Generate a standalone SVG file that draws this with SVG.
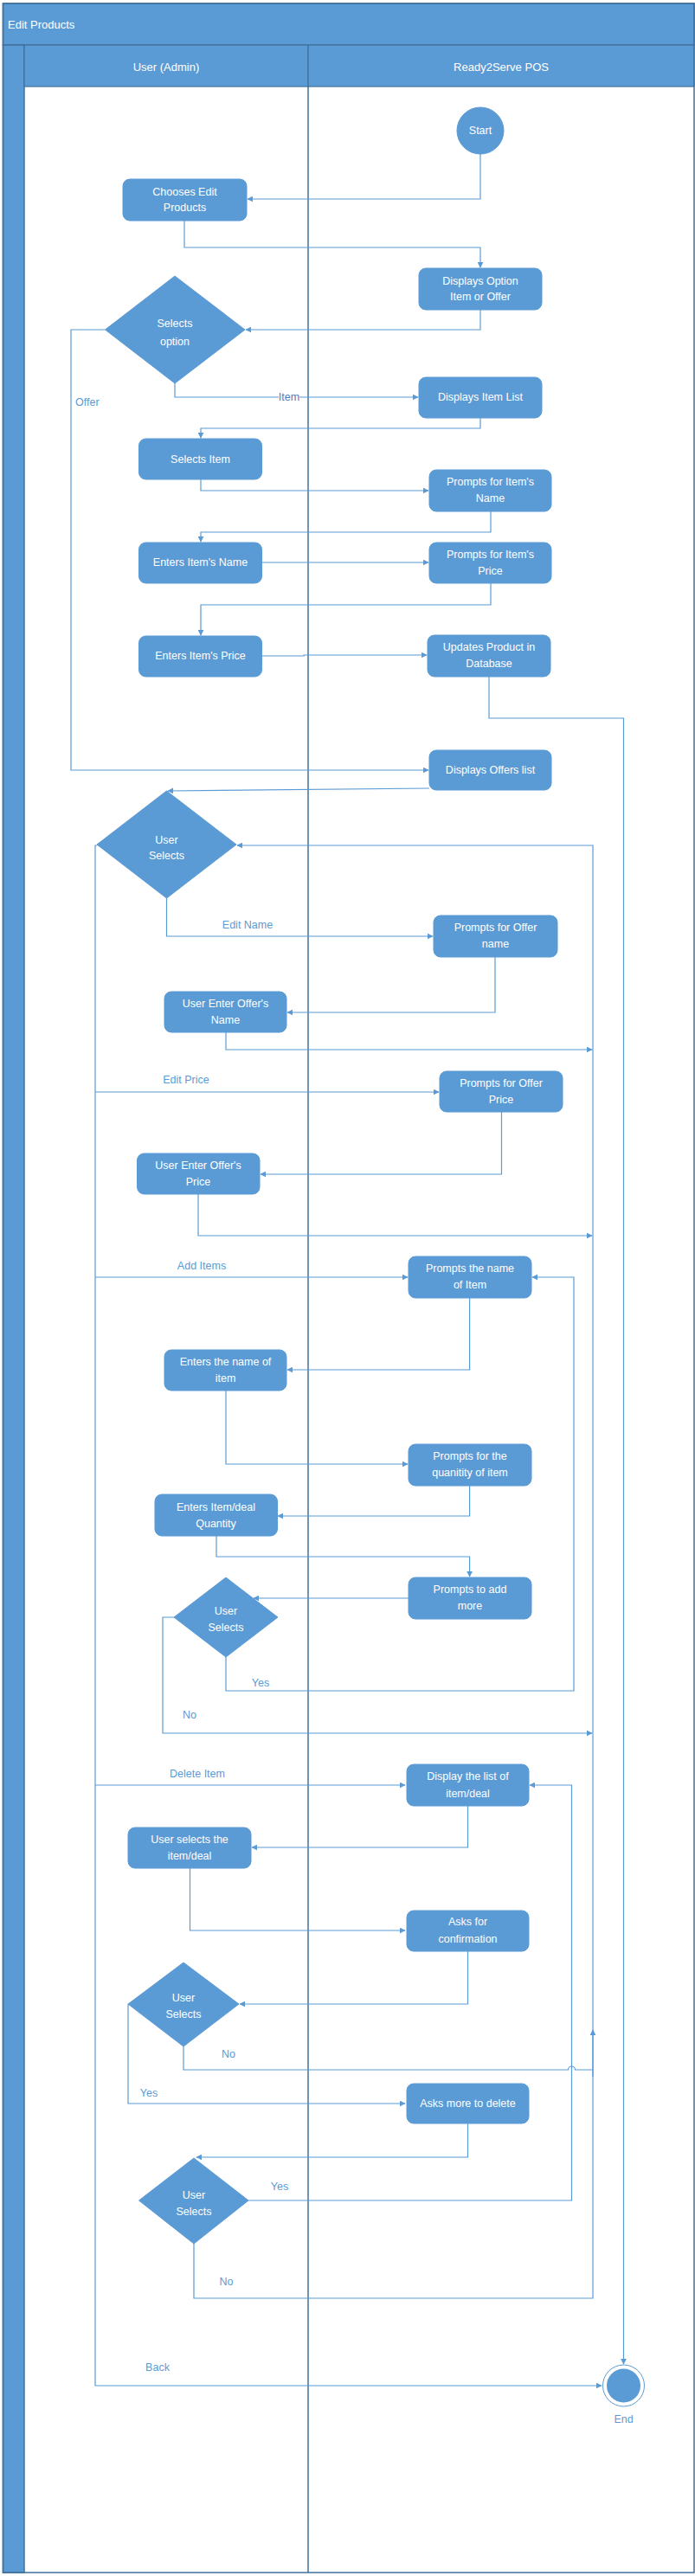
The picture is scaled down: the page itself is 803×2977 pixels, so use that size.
<svg xmlns="http://www.w3.org/2000/svg" width="803" height="2977" viewBox="0 0 803 2977">
<style>
.nd{fill:#5B9BD5;stroke:#5B9BD5;stroke-width:1}
.nt{font-family:"Liberation Sans",Arial,sans-serif;font-size:12.5px;fill:#ffffff;text-anchor:middle;dominant-baseline:central}
.lb{font-family:"Liberation Sans",Arial,sans-serif;font-size:12.5px;fill:#5B9BD5;text-anchor:middle;dominant-baseline:central}
.cn{fill:none;stroke:#5B9BD5;stroke-width:1.2}
.frame{fill:none;stroke:#41719C;stroke-width:1.5}
</style>
<defs>
<marker id="ah" viewBox="0 0 10 10" refX="9" refY="5" markerWidth="7" markerHeight="7" markerUnits="userSpaceOnUse" orient="auto"><path d="M0,0 L10,5 L0,10 z" fill="#5B9BD5"/></marker>
</defs>
<rect x="0" y="0" width="803" height="2977" fill="#ffffff"/>
<g id="pool">
<rect x="3.5" y="4" width="798.5" height="48" fill="#5B9BD5" stroke="#41719C" stroke-width="1.5"/>
<text x="9" y="28" style="font-family:'Liberation Sans',Arial,sans-serif;font-size:13px;fill:#fff;dominant-baseline:central">Edit Products</text>
<rect x="3.5" y="52" width="24.5" height="2921" fill="#5B9BD5" stroke="#41719C" stroke-width="1.5"/>
<rect x="28" y="52" width="328" height="48" fill="#5B9BD5" stroke="#41719C" stroke-width="1.2"/>
<rect x="356" y="52" width="446" height="48" fill="#5B9BD5" stroke="#41719C" stroke-width="1.2"/>
<text x="192" y="77" class="nt" style="font-size:13px">User (Admin)</text>
<text x="579" y="77" class="nt" style="font-size:13px">Ready2Serve POS</text>
<line x1="356" y1="100" x2="356" y2="2973" stroke="#41719C" stroke-width="1.5"/>
<rect x="3.5" y="4" width="798.5" height="2969" class="frame"/>
</g>
<g id="connectors">
<path class="cn" d="M555,178 V230 H286" marker-end="url(#ah)"/>
<path class="cn" d="M213,255 V286 H555 V309" marker-end="url(#ah)"/>
<path class="cn" d="M555,358 V381 H284" marker-end="url(#ah)"/>
<path class="cn" d="M121.5,381 H82 V890 H495" marker-end="url(#ah)"/>
<path class="cn" d="M202,443 V459 H483" marker-end="url(#ah)"/>
<path class="cn" d="M555,483 V495 H232 V506" marker-end="url(#ah)"/>
<path class="cn" d="M232,554 V567 H495" marker-end="url(#ah)"/>
<path class="cn" d="M567,591 V615 H232 V626" marker-end="url(#ah)"/>
<path class="cn" d="M302.5,650 H495" marker-end="url(#ah)"/>
<path class="cn" d="M567,674 V699 H232 V734" marker-end="url(#ah)"/>
<path class="cn" d="M302.5,758 H351 V757 H493" marker-end="url(#ah)"/>
<path class="cn" d="M565,782 V830 H720.5 V2732" marker-end="url(#ah)"/>
<path class="cn" d="M496,911 L194,914" marker-end="url(#ah)"/>
<path class="cn" d="M112,977 H110 V2757 H695" marker-end="url(#ah)"/>
<path class="cn" d="M192.5,1038 V1082 H500" marker-end="url(#ah)"/>
<path class="cn" d="M572,1106 V1170 H332" marker-end="url(#ah)"/>
<path class="cn" d="M261,1193 V1213 H684" marker-end="url(#ah)"/>
<path class="cn" d="M110,1262 H507" marker-end="url(#ah)"/>
<path class="cn" d="M579.5,1285 V1357 H301" marker-end="url(#ah)"/>
<path class="cn" d="M229,1380 V1428 H684" marker-end="url(#ah)"/>
<path class="cn" d="M110,1476 H471" marker-end="url(#ah)"/>
<path class="cn" d="M542.6,1500 V1583 H332" marker-end="url(#ah)"/>
<path class="cn" d="M261,1607 V1692 H471" marker-end="url(#ah)"/>
<path class="cn" d="M542.6,1717 V1752 H321" marker-end="url(#ah)"/>
<path class="cn" d="M250,1775 V1799 H542.6 V1822" marker-end="url(#ah)"/>
<path class="cn" d="M472,1847 H293" marker-end="url(#ah)"/>
<path class="cn" d="M201,1869 H188 V2003 H684" marker-end="url(#ah)"/>
<path class="cn" d="M261,1915 V1954 H663 V1476 H615" marker-end="url(#ah)"/>
<path class="cn" d="M110,2063 H468" marker-end="url(#ah)"/>
<path class="cn" d="M540.5,2087 V2135 H291" marker-end="url(#ah)"/>
<path class="cn" d="M219.5,2159 V2231 H468" marker-end="url(#ah)"/>
<path class="cn" d="M540.5,2255 V2316 H277" marker-end="url(#ah)"/>
<path class="cn" d="M212,2365 V2392 H656.5 A4,4 0 0 1 664.5,2392 H685"/>
<path class="cn" d="M148,2316 V2431 H468" marker-end="url(#ah)"/>
<path class="cn" d="M540.5,2454 V2493 H227" marker-end="url(#ah)"/>
<path class="cn" d="M287,2543 H660.5 V2063 H612" marker-end="url(#ah)"/>
<path class="cn" d="M224,2593 V2656 H685 V977 H274" marker-end="url(#ah)"/>
<path class="cn" d="M685,2400 V2346" marker-end="url(#ah)"/>
<rect x="322" y="451" width="24" height="16" fill="#ffffff"/>
<text x="334" y="459" class="lb" style="fill:#4A7EBB">Item</text>
<text x="87" y="465" class="lb" style="text-anchor:start">Offer</text>
<text x="286" y="1069" class="lb">Edit Name</text>
<text x="215" y="1248" class="lb">Edit Price</text>
<text x="233" y="1463" class="lb">Add Items</text>
<text x="301" y="1945" class="lb">Yes</text>
<text x="219" y="1982" class="lb">No</text>
<text x="228" y="2050" class="lb">Delete Item</text>
<text x="264" y="2374" class="lb">No</text>
<text x="172" y="2419" class="lb">Yes</text>
<text x="323" y="2527" class="lb">Yes</text>
<text x="261.5" y="2637" class="lb">No</text>
<text x="182" y="2736" class="lb">Back</text>
</g>
<g id="start"><circle cx="555" cy="151" r="27" class="nd"/><text x="555" y="151" class="nt">Start</text></g>
<g id="chooses"><rect x="142" y="207" width="143" height="48" rx="8" class="nd"/><text x="213.5" y="222" class="nt">Chooses Edit</text><text x="213.5" y="240" class="nt">Products</text></g>
<g id="displaysOption"><rect x="484" y="310" width="142" height="48" rx="8" class="nd"/><text x="555" y="325" class="nt">Displays Option</text><text x="555" y="343" class="nt">Item or Offer</text></g>
<g id="selectsOption"><polygon points="202,319 283,381 202,443 121.5,381" class="nd"/><text x="202" y="374" class="nt">Selects</text><text x="202" y="395" class="nt">option</text></g>
<g id="displaysItemList"><rect x="484" y="436" width="142" height="47" rx="8" class="nd"/><text x="555" y="459" class="nt">Displays Item List</text></g>
<g id="selectsItem"><rect x="160.5" y="507" width="142" height="47" rx="8" class="nd"/><text x="231.5" y="531" class="nt">Selects Item</text></g>
<g id="promptItemName"><rect x="496" y="543" width="141" height="48" rx="8" class="nd"/><text x="566.5" y="557" class="nt">Prompts for Item's</text><text x="566.5" y="576" class="nt">Name</text></g>
<g id="entersItemName"><rect x="160.5" y="627" width="142" height="47" rx="8" class="nd"/><text x="231.5" y="650" class="nt">Enters Item's Name</text></g>
<g id="promptItemPrice"><rect x="496" y="627" width="141" height="47" rx="8" class="nd"/><text x="566.5" y="641" class="nt">Prompts for Item's</text><text x="566.5" y="660" class="nt">Price</text></g>
<g id="entersItemPrice"><rect x="160.5" y="735" width="142" height="47" rx="8" class="nd"/><text x="231.5" y="758" class="nt">Enters Item's Price</text></g>
<g id="updatesProduct"><rect x="494" y="734" width="142" height="48" rx="8" class="nd"/><text x="565" y="748" class="nt">Updates Product in</text><text x="565" y="767" class="nt">Database</text></g>
<g id="displaysOffers"><rect x="496" y="867" width="141" height="46" rx="8" class="nd"/><text x="566.5" y="890" class="nt">Displays Offers list</text></g>
<g id="userSelects1"><polygon points="192.5,914 273,976 192.5,1038 112,976" class="nd"/><text x="192.5" y="971" class="nt">User</text><text x="192.5" y="989" class="nt">Selects</text></g>
<g id="promptOfferName"><rect x="501" y="1058" width="143" height="48" rx="8" class="nd"/><text x="572.5" y="1072" class="nt">Prompts for Offer</text><text x="572.5" y="1091" class="nt">name</text></g>
<g id="enterOfferName"><rect x="190" y="1146" width="141" height="47" rx="8" class="nd"/><text x="260.5" y="1160" class="nt">User Enter Offer's</text><text x="260.5" y="1179" class="nt">Name</text></g>
<g id="promptOfferPrice"><rect x="508" y="1238" width="142" height="47" rx="8" class="nd"/><text x="579" y="1252" class="nt">Prompts for Offer</text><text x="579" y="1271" class="nt">Price</text></g>
<g id="enterOfferPrice"><rect x="158.5" y="1333" width="141.5" height="47" rx="8" class="nd"/><text x="229" y="1347" class="nt">User Enter Offer's</text><text x="229" y="1366" class="nt">Price</text></g>
<g id="promptNameItem"><rect x="472" y="1452" width="142" height="48" rx="8" class="nd"/><text x="543" y="1466" class="nt">Prompts the name</text><text x="543" y="1485" class="nt">of Item</text></g>
<g id="entersNameItem"><rect x="190" y="1560" width="141" height="47" rx="8" class="nd"/><text x="260.5" y="1574" class="nt">Enters the name of</text><text x="260.5" y="1593" class="nt">item</text></g>
<g id="promptQuantity"><rect x="472" y="1669" width="142" height="48" rx="8" class="nd"/><text x="543" y="1683" class="nt">Prompts for the</text><text x="543" y="1702" class="nt">quanitity of item</text></g>
<g id="entersQuantity"><rect x="179" y="1727" width="141.5" height="48" rx="8" class="nd"/><text x="249.5" y="1742" class="nt">Enters Item/deal</text><text x="249.5" y="1761" class="nt">Quantity</text></g>
<g id="promptAddMore"><rect x="472" y="1823" width="142" height="48" rx="8" class="nd"/><text x="543" y="1837" class="nt">Prompts to add</text><text x="543" y="1856" class="nt">more</text></g>
<g id="userSelects2"><polygon points="261,1823 321,1869 261,1915 201,1869" class="nd"/><text x="261" y="1862" class="nt">User</text><text x="261" y="1881" class="nt">Selects</text></g>
<g id="displayList"><rect x="470" y="2039" width="141" height="48" rx="8" class="nd"/><text x="540.5" y="2053" class="nt">Display the list of</text><text x="540.5" y="2073" class="nt">item/deal</text></g>
<g id="userSelectsItem"><rect x="148" y="2112" width="142" height="47" rx="8" class="nd"/><text x="219" y="2126" class="nt">User selects the</text><text x="219" y="2145" class="nt">item/deal</text></g>
<g id="asksConfirm"><rect x="470" y="2208" width="141" height="47" rx="8" class="nd"/><text x="540.5" y="2221" class="nt">Asks for</text><text x="540.5" y="2241" class="nt">confirmation</text></g>
<g id="userSelects3"><polygon points="212,2268 276,2316 212,2365 148,2316" class="nd"/><text x="212" y="2309" class="nt">User</text><text x="212" y="2328" class="nt">Selects</text></g>
<g id="asksMore"><rect x="470" y="2408" width="141" height="46" rx="8" class="nd"/><text x="540.5" y="2431" class="nt">Asks more to delete</text></g>
<g id="userSelects4"><polygon points="224,2494 287,2543 224,2593 160.5,2543" class="nd"/><text x="224" y="2537" class="nt">User</text><text x="224" y="2556" class="nt">Selects</text></g>
<g id="end"><circle cx="720.5" cy="2757" r="24" fill="#ffffff" stroke="#5B9BD5" stroke-width="1"/><circle cx="720.5" cy="2757" r="19.5" fill="#5B9BD5"/><text x="720.5" y="2796" class="lb">End</text></g>
</svg>
